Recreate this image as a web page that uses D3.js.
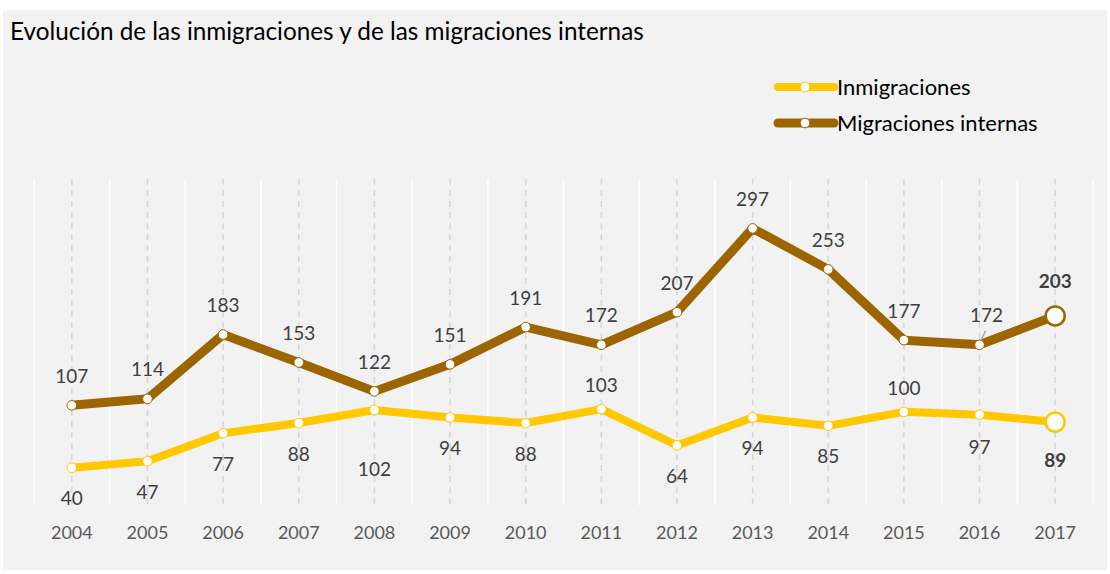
<!DOCTYPE html>
<html>
<head>
<meta charset="utf-8">
<script src="https://cdn.jsdelivr.net/npm/d3@7"></script>
<style>
  body { margin: 0; background: #fff; }
  svg { display: block; }
  text { font-family: Lato, "Open Sans", sans-serif; }
</style>
</head>
<body>
<svg width="1110" height="574"></svg>
<script>
const years = ['2004','2005','2006','2007','2008','2009','2010','2011','2012','2013','2014','2015','2016','2017']
const inmigraciones = [40, 47, 77, 88, 102, 94, 88, 103, 64, 94, 85, 100, 97, 89]
const migracionesInternas = [107, 114, 183, 153, 122, 151, 191, 172, 207, 297, 253, 177, 172, 203]
const seriesNames = ['Inmigraciones', 'Migraciones internas']

// label offsets (px from point), negative = above
const inmLabelDy = [31, 31, 31, 31, 59, 31, 31, -24, 31, 31, 31, -24, 33, 38]
const migLabelDy = [-29, -29, -29, -29, -29, -29, -29, -29, -29, -29, -29, -29, -29, -35]

const colors = ['#FFC800', '#9C6500']

const svg = d3.select('svg')

svg.append('rect')
    .attr('x', 3).attr('y', 10)
    .attr('width', 1104).attr('height', 560)
    .attr('fill', '#f2f2f2')

svg.append('text')
    .attr('x', 10).attr('y', 40)
    .attr('font-size', 24.3)
    .attr('fill', '#000')
    .text('Evolución de las inmigraciones y de las migraciones internas')

const xScale = d3.scaleBand().domain(years).range([34, 1093])
const yScale = d3.scaleLinear().domain([0, 350]).range([505, 179])
const cx = d => xScale(d) + xScale.bandwidth() / 2

// white band separators
svg.append('g')
    .selectAll('line')
    .data(years.concat(['end']))
    .enter()
    .append('line')
    .attr('x1', (d, i) => 34 + i * xScale.step())
    .attr('x2', (d, i) => 34 + i * xScale.step())
    .attr('y1', yScale(350))
    .attr('y2', yScale(0))
    .attr('stroke', '#ffffff')
    .attr('stroke-width', 1.5)

// dashed category lines
svg.append('g')
    .selectAll('line')
    .data(years)
    .enter()
    .append('line')
    .attr('x1', d => cx(d))
    .attr('x2', d => cx(d))
    .attr('y1', yScale(350))
    .attr('y2', yScale(0))
    .attr('stroke', '#d6d6d6')
    .attr('stroke-width', 1.5)
    .attr('stroke-dasharray', '6,5')

// x axis labels
const xAxis = d3.axisBottom(xScale).tickSize(0).tickPadding(0)
const xAxisG = svg.append('g')
    .attr('transform', `translate(0, ${yScale(0) + 21})`)
    .call(xAxis)
xAxisG.select('path.domain').remove()
xAxisG.selectAll('text')
    .attr('font-family', 'Lato, "Open Sans", sans-serif')
    .attr('font-size', 18)
    .attr('fill', '#595959')

const series = [
    { name: seriesNames[0], values: inmigraciones, dy: inmLabelDy, color: colors[0], width: 8 },
    { name: seriesNames[1], values: migracionesInternas, dy: migLabelDy, color: colors[1], width: 9 }
]

const line = d3.line()
    .x((d, i) => cx(years[i]))
    .y(d => yScale(d))

series.forEach(s => {
    svg.append('path')
        .attr('d', line(s.values))
        .attr('fill', 'none')
        .attr('stroke', s.color)
        .attr('stroke-width', s.width)
        .attr('stroke-linejoin', 'round')

    const last = s.values.length - 1
    svg.append('g')
        .selectAll('circle')
        .data(s.values)
        .enter()
        .append('circle')
        .attr('cx', (d, i) => cx(years[i]))
        .attr('cy', d => yScale(d))
        .attr('r', (d, i) => i === last ? 9.5 : 4.8)
        .attr('fill', '#fff')
        .attr('stroke', s.color)
        .attr('stroke-width', (d, i) => i === last ? 2.5 : 1)

    svg.append('g')
        .selectAll('text')
        .data(s.values)
        .enter()
        .append('text')
        .attr('x', (d, i) => cx(years[i]) + (s.name === seriesNames[1] && i === 12 ? 7 : 0))
        .attr('y', (d, i) => yScale(d) + s.dy[i])
        .attr('dy', '0.35em')
        .attr('text-anchor', 'middle')
        .attr('font-size', 19)
        .attr('font-weight', (d, i) => i === last ? 'bold' : 'normal')
        .attr('fill', '#404040')
        .text(d => d)
})

// leader line for 2016 migraciones label
svg.append('line')
    .attr('x1', cx('2016') + 6)
    .attr('y1', yScale(migracionesInternas[12]) - 14)
    .attr('x2', cx('2016') + 1)
    .attr('y2', yScale(migracionesInternas[12]) - 4)
    .attr('stroke', '#a6a6a6')
    .attr('stroke-width', 1.5)

// legend
const legend = svg.append('g')
    .selectAll('g')
    .data(series)
    .enter()
    .append('g')
    .attr('transform', (d, i) => `translate(776, ${87 + i * 36})`)

legend.append('line')
    .attr('x1', 2).attr('x2', 58)
    .attr('y1', 0).attr('y2', 0)
    .attr('stroke', d => d.color)
    .attr('stroke-width', d => d.width)
    .attr('stroke-linecap', 'round')

legend.append('circle')
    .attr('cx', 29).attr('cy', 0)
    .attr('r', 4.8)
    .attr('fill', '#fff')
    .attr('stroke', d => d.color)
    .attr('stroke-width', 1)

legend.append('text')
    .attr('x', 61).attr('y', 0)
    .attr('dy', '0.35em')
    .attr('font-size', 22)
    .attr('fill', '#000')
    .text(d => d.name)
</script>
</body>
</html>
